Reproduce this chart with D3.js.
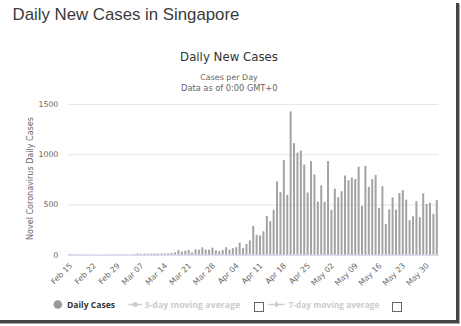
<!DOCTYPE html>
<html>
<head>
<meta charset="utf-8">
<script src="https://cdn.jsdelivr.net/npm/d3@7/dist/d3.min.js"></script>
<style>
  html, body { margin: 0; padding: 0; background: #fff; }
  svg { display: block; }
</style>
</head>
<body>
<svg id="chart" width="461" height="326"></svg>
<script>
// ---- data ----
const startDay = "2020-02-15";
const endDay = "2020-06-02";
const dailyCases = [
  // Feb 15 - Feb 29
  9, 3, 2, 4, 3, 1, 1, 3, 1, 1, 1, 2, 3, 2, 4,
  // Mar 1 - Mar 31
  4, 2, 2, 2, 7, 13, 8, 12, 10, 10, 12, 12, 13, 13, 14, 17, 23, 47, 32, 40, 47, 23, 54, 49, 73, 52, 49, 70, 42, 35, 47,
  // Apr 1 - Apr 30
  74, 49, 65, 75, 120, 66, 106, 142, 287, 198, 191, 233, 386, 334, 447, 728, 623, 942, 596, 1426, 1111, 1016, 1037, 897, 618, 931, 799, 528, 690, 528,
  // May 1 - May 31
  932, 447, 657, 573, 632, 788, 741, 768, 753, 876, 486, 884, 675, 752, 793, 465, 682, 305, 451, 570, 448, 614, 642, 548, 344, 383, 533, 373, 611, 506, 518,
  // Jun 1 - Jun 2
  408, 544
];
const xTickLabels = ["Feb 15", "Feb 22", "Feb 29", "Mar 07", "Mar 14", "Mar 21", "Mar 28", "Apr 04",
  "Apr 11", "Apr 18", "Apr 25", "May 02", "May 09", "May 16", "May 23", "May 30"];
const yTicks = [0, 500, 1000, 1500];
const legendItems = ["Daily Cases", "3-day moving average", "7-day moving average"];

// ---- setup ----
const parse = d3.timeParse("%Y-%m-%d");
const fmt = d3.timeFormat("%b %d");
const days = d3.timeDay.range(parse(startDay), d3.timeDay.offset(parse(endDay), 1));
const categories = days.map(fmt);
const data = categories.map((c, i) => ({ cat: c, value: dailyCases[i] }));

const svg = d3.select("#chart");
const FONT = "'DejaVu Sans', Verdana, sans-serif";
const LFONT = "'Open Sans', 'DejaVu Sans', sans-serif";

function fit(sel, w) {
  const base = parseFloat(sel.attr("font-size"));
  const len = sel.node().getComputedTextLength();
  sel.attr("font-size", (base * w / len).toFixed(2));
  return sel;
}

const plot = { left: 68, right: 438.5, top: 104, bottom: 254.7 };

const x = d3.scaleBand().domain(categories).range([plot.left, plot.right]).padding(0);
const y = d3.scaleLinear().domain([0, 1500]).range([plot.bottom, plot.top]);

// page title
fit(svg.append("text").attr("x", 12.5).attr("y", 19.5)
  .attr("font-family", "'Liberation Sans', Arial, sans-serif").attr("font-size", 17)
  .attr("fill", "#3a3a3a").text("Daily New Cases in Singapore"), 227);

// chart title + subtitles
fit(svg.append("text").attr("x", 229).attr("y", 60.5).attr("text-anchor", "middle")
  .attr("font-family", FONT).attr("font-size", 12).attr("fill", "#333")
  .text("Daily New Cases"), 98);
fit(svg.append("text").attr("x", 229).attr("y", 80.3).attr("text-anchor", "middle")
  .attr("font-family", FONT).attr("font-size", 8).attr("fill", "#666")
  .text("Cases per Day"), 57.5);
fit(svg.append("text").attr("x", 229.3).attr("y", 90.8).attr("text-anchor", "middle")
  .attr("font-family", FONT).attr("font-size", 8).attr("fill", "#666")
  .text("Data as of 0:00 GMT+0"), 96.5);

// y grid + labels
const yAxis = d3.axisLeft(y).tickValues(yTicks).tickFormat(d3.format("d"))
  .tickSize(-(plot.right - plot.left)).tickPadding(10);
const gy = svg.append("g").attr("transform", `translate(${plot.left},0)`).call(yAxis);
gy.select(".domain").remove();
gy.selectAll(".tick line").attr("stroke", "#e6e6e6").attr("stroke-width", 1);
gy.selectAll(".tick text").attr("font-family", FONT).attr("font-size", 7.8)
  .attr("fill", "#666").attr("x", -9.7);

// y axis title
fit(svg.append("text").attr("transform", "translate(32.5,178.5) rotate(-90)")
  .attr("text-anchor", "middle").attr("font-family", FONT).attr("font-size", 8)
  .attr("fill", "#666").text("Novel Coronavirus Daily Cases"), 123);

// bars
const barW = 2;
svg.append("g").selectAll("rect").data(data).join("rect")
  .attr("x", d => x(d.cat) + x.bandwidth() / 2 - barW / 2)
  .attr("y", d => y(d.value))
  .attr("width", barW)
  .attr("height", d => y(0) - y(d.value))
  .attr("fill", "#a3a3a3");

// x axis
const xAxis = d3.axisBottom(x).tickValues(xTickLabels).tickSize(0).tickPadding(0);
const gx = svg.append("g").attr("transform", `translate(0,${plot.bottom})`).call(xAxis);
gx.select(".domain").attr("stroke", "#ccd6eb").attr("d", `M${plot.left},0.5H${plot.right}`);
gx.selectAll(".tick text")
  .attr("font-family", FONT).attr("font-size", 7.8).attr("fill", "#666")
  .attr("text-anchor", "end").attr("dy", null).attr("y", 0)
  .attr("transform", "translate(3,11.5) rotate(-45)");

// legend
const ly = 304.5;
svg.append("circle").attr("cx", 57.8).attr("cy", ly).attr("r", 4.3).attr("fill", "#999");
fit(svg.append("text").attr("x", 67).attr("y", ly + 3.2).attr("font-family", LFONT)
  .attr("font-size", 9).attr("font-weight", "bold").attr("fill", "#333").text(legendItems[0]), 48);

svg.append("line").attr("x1", 128.5).attr("x2", 142).attr("y1", ly).attr("y2", ly)
  .attr("stroke", "#ccc").attr("stroke-width", 1.5);
svg.append("circle").attr("cx", 135.2).attr("cy", ly).attr("r", 2.5).attr("fill", "#ccc");
fit(svg.append("text").attr("x", 144.5).attr("y", ly + 3.2).attr("font-family", LFONT)
  .attr("font-size", 9).attr("font-weight", "bold").attr("fill", "#ccc").text(legendItems[1]), 96);
svg.append("rect").attr("x", 254.5).attr("y", 302.5).attr("width", 9).attr("height", 9)
  .attr("fill", "#fff").attr("stroke", "#666").attr("stroke-width", 1);

svg.append("line").attr("x1", 268.5).attr("x2", 284.5).attr("y1", ly).attr("y2", ly)
  .attr("stroke", "#ccc").attr("stroke-width", 1.5);
svg.append("path").attr("d", d3.symbol(d3.symbolDiamond, 14)()).attr("transform", `translate(276.5,${ly})`)
  .attr("fill", "#ccc");
fit(svg.append("text").attr("x", 288.5).attr("y", ly + 3.2).attr("font-family", LFONT)
  .attr("font-size", 9).attr("font-weight", "bold").attr("fill", "#ccc").text(legendItems[2]), 91);
svg.append("rect").attr("x", 392.5).attr("y", 302.5).attr("width", 9).attr("height", 9)
  .attr("fill", "#fff").attr("stroke", "#666").attr("stroke-width", 1);

// screenshot frame shadow (right and bottom)
svg.append("rect").attr("x", 456).attr("y", 3).attr("width", 3).attr("height", 320).attr("fill", "#444");
svg.append("rect").attr("x", 459).attr("y", 4).attr("width", 1).attr("height", 320).attr("fill", "#aaa");
svg.append("rect").attr("x", 0).attr("y", 320).attr("width", 459).attr("height", 3).attr("fill", "#444");
svg.append("rect").attr("x", 0).attr("y", 323).attr("width", 460).attr("height", 1).attr("fill", "#aaa");
</script>
</body>
</html>
